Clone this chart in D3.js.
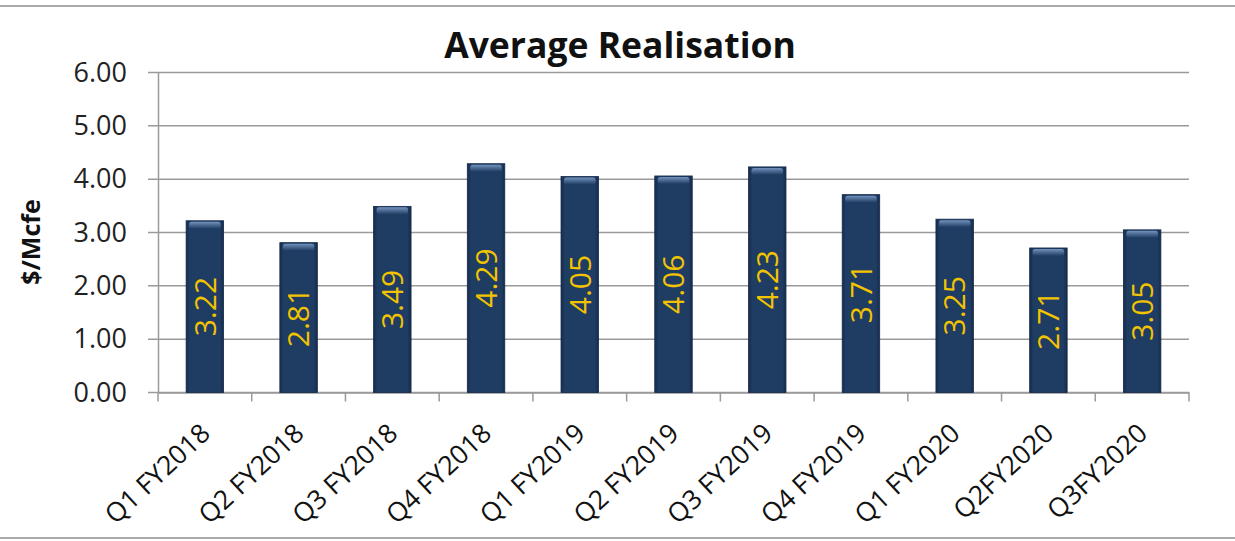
<!DOCTYPE html>
<html>
<head>
<meta charset="utf-8">
<script src="https://cdn.jsdelivr.net/npm/d3@7"></script>
<style>
  body { margin: 0; background: #fff; }
  text { font-family: "Open Sans", "Liberation Sans", sans-serif; }
</style>
</head>
<body>
<div id="chart"></div>
<script>
// chart data
const quarters = ['Q1 FY2018', 'Q2 FY2018', 'Q3 FY2018', 'Q4 FY2018', 'Q1 FY2019', 'Q2 FY2019',
                  'Q3 FY2019', 'Q4 FY2019', 'Q1 FY2020', 'Q2FY2020', 'Q3FY2020'];
const realisation = [3.22, 2.81, 3.49, 4.29, 4.05, 4.06, 4.23, 3.71, 3.25, 2.71, 3.05];
const yTicks = [0, 1, 2, 3, 4, 5, 6];

const svgWidth = 1235;
const svgHeight = 541;
const plotLeft = 158, plotRight = 1189, plotTop = 72.5, plotBottom = 392.5;

const svg = d3.select('#chart')
    .append('svg')
    .attr('width', svgWidth)
    .attr('height', svgHeight);

const defs = svg.append('defs');
const grad = defs.append('linearGradient').attr('id', 'barGrad')
    .attr('x1', 0).attr('x2', 1).attr('y1', 0).attr('y2', 0);
grad.append('stop').attr('offset', '0%').attr('stop-color', '#152d4c');
grad.append('stop').attr('offset', '10%').attr('stop-color', '#1f3c63');
grad.append('stop').attr('offset', '90%').attr('stop-color', '#1f3c63');
grad.append('stop').attr('offset', '100%').attr('stop-color', '#152d4c');

const topGrad = defs.append('linearGradient').attr('id', 'topGrad')
    .attr('x1', 0).attr('x2', 0).attr('y1', 0).attr('y2', 1);
topGrad.append('stop').attr('offset', '0%').attr('stop-color', '#7393bd');
topGrad.append('stop').attr('offset', '100%').attr('stop-color', '#1f3c63');

// frame lines top and bottom
svg.append('line').attr('x1', 0).attr('x2', svgWidth).attr('y1', 6).attr('y2', 6)
    .attr('stroke', '#8c8c8c').attr('stroke-width', 1.5);
svg.append('line').attr('x1', 0).attr('x2', svgWidth).attr('y1', 538).attr('y2', 538)
    .attr('stroke', '#8c8c8c').attr('stroke-width', 1.5);

// scales
const xScale = d3.scaleBand()
    .domain(quarters)
    .range([plotLeft, plotRight])
    .paddingInner(0.6)
    .paddingOuter(0.3);

const yScale = d3.scaleLinear()
    .domain([0, 6])
    .range([plotBottom, plotTop]);

// gridlines
svg.append('g')
    .selectAll('line')
    .data(yTicks)
    .enter()
    .append('line')
    .attr('x1', plotLeft - 10)
    .attr('x2', plotRight)
    .attr('y1', (d) => yScale(d))
    .attr('y2', (d) => yScale(d))
    .attr('stroke', '#9a9a9a')
    .attr('stroke-width', 1.5);

// y axis
const yAxis = d3.axisLeft(yScale)
    .tickValues(yTicks)
    .tickFormat(d3.format('.2f'))
    .tickSize(0)
    .tickPadding(31);
const gy = svg.append('g')
    .attr('transform', 'translate(' + plotLeft + ', 0)')
    .call(yAxis);
gy.select('.domain').attr('stroke', '#9a9a9a').attr('stroke-width', 1.5);
gy.selectAll('text')
    .attr('font-size', '27px')
    .attr('font-family', '"Open Sans", sans-serif')
    .attr('fill', '#222');

// x axis
const band = (plotRight - plotLeft) / quarters.length;
const xAxis = d3.axisBottom(xScale).tickSize(0).tickFormat('');
const gx = svg.append('g')
    .attr('transform', 'translate(0, ' + plotBottom + ')')
    .call(xAxis);
gx.select('.domain').attr('stroke', '#9a9a9a').attr('stroke-width', 1.5);
gx.selectAll('.boundary')
    .data(d3.range(quarters.length + 1))
    .enter()
    .append('line')
    .attr('x1', (i) => plotLeft + i * band)
    .attr('x2', (i) => plotLeft + i * band)
    .attr('y1', 0)
    .attr('y2', 9)
    .attr('stroke', '#9a9a9a')
    .attr('stroke-width', 1.5);

// x labels, rotated
svg.append('g')
    .selectAll('text')
    .data(quarters)
    .enter()
    .append('text')
    .attr('transform', (d) => 'translate(' + (xScale(d) + xScale.bandwidth() / 2 + 7) + ',' + (plotBottom + 43) + ') rotate(-43)')
    .attr('text-anchor', 'end')
    .attr('font-size', '26.5px')
    .attr('fill', '#111')
    .text((d) => d);

// bars
const bars = svg.append('g');
bars.selectAll('rect.bar')
    .data(realisation)
    .enter()
    .append('rect')
    .attr('class', 'bar')
    .attr('x', (d, i) => xScale(quarters[i]))
    .attr('y', (d) => yScale(d))
    .attr('width', xScale.bandwidth())
    .attr('height', (d) => plotBottom - yScale(d))
    .attr('fill', 'url(#barGrad)')
    .attr('stroke', '#15294a')
    .attr('stroke-width', 0.8);

bars.selectAll('rect.bevel')
    .data(realisation)
    .enter()
    .append('rect')
    .attr('class', 'bevel')
    .attr('x', (d, i) => xScale(quarters[i]) + 3)
    .attr('y', (d) => yScale(d) + 1)
    .attr('width', xScale.bandwidth() - 6)
    .attr('height', 7)
    .attr('rx', 2.5)
    .attr('fill', 'url(#topGrad)');

// value labels
svg.append('g')
    .selectAll('text')
    .data(realisation)
    .enter()
    .append('text')
    .attr('transform', (d, i) => 'translate(' + (xScale(quarters[i]) + xScale.bandwidth() / 2) + ',' + ((yScale(d) + plotBottom) / 2) + ') rotate(-90)')
    .attr('text-anchor', 'middle')
    .attr('dy', '0.36em')
    .attr('font-size', '30px')
    .attr('fill', '#f2c300')
    .text((d) => d.toFixed(2));

// title
svg.append('text')
    .attr('x', 620)
    .attr('y', 58)
    .attr('text-anchor', 'middle')
    .attr('font-size', '35.5px')
    .attr('font-weight', 'bold')
    .attr('fill', '#111')
    .text('Average Realisation');

// y axis title
svg.append('text')
    .attr('transform', 'translate(40, 242) rotate(-90)')
    .attr('text-anchor', 'middle')
    .attr('font-size', '25px')
    .attr('font-weight', 'bold')
    .attr('fill', '#111')
    .text('$/Mcfe');
</script>
</body>
</html>
